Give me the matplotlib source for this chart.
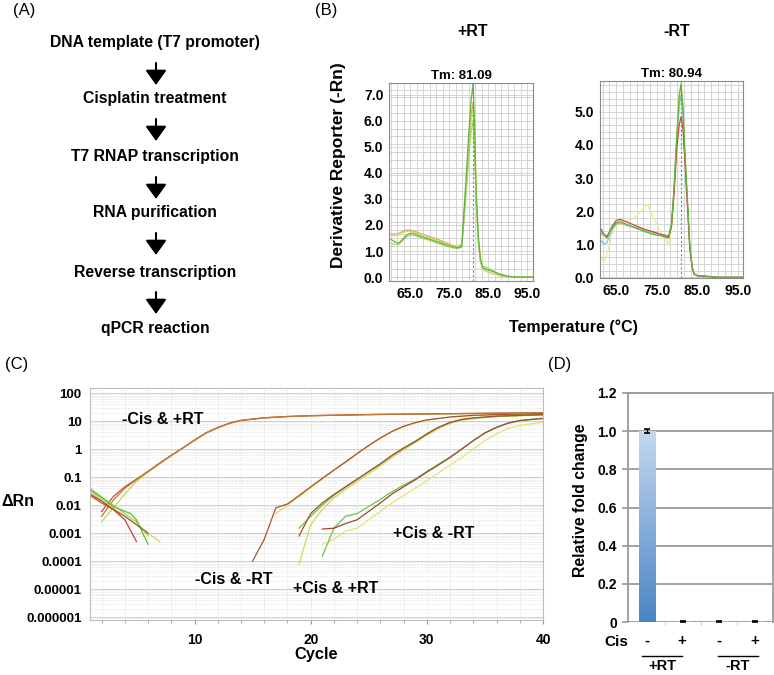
import numpy as np
import matplotlib
matplotlib.use('Agg')
import matplotlib.pyplot as plt
from matplotlib.ticker import MultipleLocator, AutoMinorLocator, LogLocator, NullFormatter
from matplotlib.colors import LinearSegmentedColormap

plt.rcParams['font.family'] = ['Liberation Sans', 'DejaVu Sans']
plt.rcParams['font.weight'] = 'bold'

W, H = 774, 675

# panel A: workflow
steps = ['DNA template (T7 promoter)', 'Cisplatin treatment', 'T7 RNAP transcription',
         'RNA purification', 'Reverse transcription', 'qPCR reaction']

# panel B: melt curves, +RT
temp_plus = [60, 61, 62, 63, 64, 65, 66, 68, 70, 72, 74, 76, 77.2, 78.2, 79.1, 80, 80.6, 81.1, 81.5, 81.9, 82.5, 83, 83.6, 84.5, 85.5, 86.5, 88, 90, 92, 97]
plus_green = [1.45, 1.35, 1.3, 1.45, 1.62, 1.68, 1.66, 1.55, 1.45, 1.35, 1.25, 1.16, 1.12, 1.2, 3.3, 5.5, 6.8, 7.4, 5.8, 3.3, 1.5, 0.7, 0.35, 0.3, 0.25, 0.2, 0.1, 0.03, 0.0, 0.0]
plus_ltgreen = [1.3, 1.25, 1.25, 1.4, 1.55, 1.62, 1.6, 1.5, 1.4, 1.3, 1.2, 1.12, 1.1, 1.15, 2.8, 4.6, 5.6, 6.0, 4.8, 2.8, 1.3, 0.6, 0.4, 0.38, 0.3, 0.22, 0.12, 0.04, 0.0, 0.0]
plus_orange = [1.65, 1.65, 1.68, 1.75, 1.8, 1.8, 1.76, 1.65, 1.55, 1.45, 1.33, 1.22, 1.18, 1.25, 3.0, 5.0, 6.2, 6.7, 5.3, 3.0, 1.3, 0.6, 0.3, 0.22, 0.17, 0.12, 0.05, 0.01, 0.0, 0.0]
plus_yellow = [1.6, 1.58, 1.6, 1.68, 1.75, 1.76, 1.72, 1.62, 1.5, 1.4, 1.3, 1.2, 1.15, 1.22, 2.9, 4.8, 6.0, 6.4, 5.1, 2.9, 1.3, 0.6, 0.3, 0.22, 0.17, 0.12, 0.05, 0.01, 0.0, 0.0]

# panel B: melt curves, -RT
temp_minus = [61, 62, 62.7, 64, 65, 66, 68, 70, 72, 72.8, 74, 76, 77.9, 78.6, 79.2, 79.9, 80.5, 80.94, 81.4, 81.9, 82.4, 83.1, 83.7, 84.2, 85, 86, 88, 90, 96]
minus_red = [1.5, 1.3, 1.2, 1.55, 1.72, 1.75, 1.65, 1.55, 1.45, 1.42, 1.38, 1.3, 1.22, 1.55, 2.5, 3.9, 4.6, 4.85, 4.5, 3.5, 2.4, 0.9, 0.3, 0.1, 0.05, 0.04, 0.02, 0.0, 0.0]
minus_green = [1.35, 1.3, 1.25, 1.5, 1.65, 1.68, 1.58, 1.48, 1.38, 1.35, 1.3, 1.25, 1.18, 1.6, 2.65, 4.3, 5.5, 5.85, 5.2, 3.8, 2.65, 1.0, 0.3, 0.1, 0.05, 0.05, 0.03, 0.0, 0.0]
minus_cyan = [1.15, 1.0, 1.05, 1.45, 1.62, 1.65, 1.56, 1.5, 1.43, 1.4, 1.36, 1.3, 1.26, 1.65, 2.6, 4.1, 5.2, 5.5, 4.9, 3.6, 2.5, 0.9, 0.25, 0.08, 0.04, 0.02, 0.01, 0.0, 0.0]
minus_pale = [0.6, 0.48, 0.7, 1.3, 1.65, 1.72, 1.7, 1.85, 2.15, 2.2, 1.85, 1.35, 1.0, 1.4, 2.4, 3.9, 5.1, 5.5, 5.0, 3.6, 2.5, 0.9, 0.25, 0.08, 0.05, 0.03, 0.02, 0.0, 0.0]
minus_yellow = [1.3, 1.25, 1.2, 1.45, 1.6, 1.62, 1.55, 1.48, 1.4, 1.37, 1.33, 1.27, 1.2, 1.55, 2.55, 4.2, 5.4, 5.75, 5.1, 3.7, 2.55, 0.95, 0.28, 0.09, 0.05, 0.03, 0.02, 0.0, 0.0]
tm_plus, tm_minus = 81.09, 80.94

# panel C: amplification curves
cyc_a = [2, 3, 4, 5, 6, 7, 8, 9, 10, 11, 12, 13, 14, 16, 18, 20, 25, 30, 35, 40]
cisneg_rtpos_1 = [0.004, 0.015, 0.04, 0.08, 0.16, 0.32, 0.6, 1.1, 2.1, 3.8, 5.8, 8.3, 10.5, 13, 14.5, 15.5, 17, 18, 18.8, 19.5]
cisneg_rtpos_2 = [0.0025, 0.008, 0.025, 0.07, 0.15, 0.3, 0.58, 1.1, 2.0, 3.7, 5.7, 8.2, 10.4, 12.9, 14.4, 15.4, 16.9, 17.9, 18.7, 19.3]
cisneg_rtpos_3 = [0.006, 0.02, 0.045, 0.085, 0.16, 0.31, 0.6, 1.1, 2.1, 3.8, 5.9, 8.4, 10.6, 13.1, 14.6, 15.6, 17.1, 18.1, 18.9, 19.6]

cyc_b = [15, 16, 17, 18, 19, 20, 21, 22, 23, 24, 25, 26, 27, 28, 29, 30, 32, 34, 36, 38, 40]
cisneg_rtneg_1 = [0.0001, 0.0006, 0.008, 0.011, 0.022, 0.045, 0.09, 0.18, 0.35, 0.7, 1.35, 2.5, 4.3, 6.5, 8.8, 11, 14, 16, 17, 17.8, 18.3]
cyc_b2 = [17, 18, 19, 20, 21, 22, 23, 24, 25, 26, 27, 28, 29, 30, 32, 34, 36, 38, 40]
cisneg_rtneg_2 = [0.005, 0.01, 0.02, 0.042, 0.085, 0.17, 0.33, 0.66, 1.3, 2.4, 4.1, 6.3, 8.6, 10.8, 13.8, 15.8, 16.8, 17.6, 18.1]

cyc_c = [19, 20, 21, 22, 23, 24, 25, 26, 27, 28, 29, 30, 31, 32, 33, 34, 36, 38, 40]
cispos_rtpos_1 = [0.0008, 0.005, 0.012, 0.024, 0.045, 0.085, 0.16, 0.3, 0.6, 1.1, 1.9, 3.5, 6, 9, 11.5, 13, 15, 16, 17]
cispos_rtpos_2 = [0.0015, 0.004, 0.01, 0.022, 0.043, 0.082, 0.155, 0.29, 0.58, 1.05, 1.85, 3.4, 5.9, 8.8, 11.3, 12.8, 14.8, 15.8, 16.8]
cispos_rtpos_3 = [0.00008, 0.002, 0.007, 0.018, 0.036, 0.07, 0.13, 0.25, 0.5, 0.95, 1.7, 3.1, 5.4, 8.2, 10.6, 12.2, 14.3, 15.4, 16.4]

cyc_d = [21, 22, 23, 24, 25, 26, 27, 28, 29, 30, 31, 32, 33, 34, 35, 36, 37, 38, 39, 40]
cispos_rtneg_1 = [0.0014, 0.0015, 0.0022, 0.003, 0.006, 0.012, 0.025, 0.045, 0.08, 0.15, 0.27, 0.5, 1.0, 2.0, 3.8, 6, 8.5, 10.5, 11.5, 12.5]
cispos_rtneg_2 = [0.00015, 0.0015, 0.004, 0.005, 0.009, 0.016, 0.03, 0.052, 0.085, 0.16, 0.29, 0.52, 1.0, 2.0, 3.7, 5.9, 8.3, 10.2, 11.3, 12.2]
cispos_rtneg_3 = [0.0004, 0.0006, 0.0012, 0.0015, 0.003, 0.006, 0.012, 0.022, 0.04, 0.075, 0.14, 0.27, 0.5, 1.0, 2.0, 3.5, 5.5, 7, 8, 9]

# panel C: baseline noise at early cycles
noise_cyc_1 = [1, 2, 3, 4, 5]
noise_red = [0.025, 0.014, 0.007, 0.003, 0.0005]
noise_cyc_2 = [1, 2, 3, 4, 4.5, 5, 6]
noise_green = [0.035, 0.018, 0.009, 0.006, 0.005, 0.003, 0.0004]
noise_cyc_3 = [1, 2, 3, 4, 5, 6, 7]
noise_yellow = [0.03, 0.015, 0.008, 0.004, 0.002, 0.001, 0.0005]
noise_brown = [0.022, 0.012, 0.007, 0.004, 0.002, 0.001, None]
noise_ltgreen = [0.04, 0.02, 0.01, 0.005, 0.0025, 0.0008, None]

# panel D: relative fold change
bar_pos = [0, 1, 2, 3]
fold_change = [1.0, 0.003, 0.003, 0.003]
fold_err = [0.012, 0.002, 0.002, 0.002]
cis_signs = ['-', '+', '-', '+']
rt_groups = ['+RT', '-RT']


def px_axes(l, t, r, b):
    return fig.add_axes([l / W, 1 - b / H, (r - l) / W, (b - t) / H])


fig = plt.figure(figsize=(7.74, 6.75), dpi=100)

# ---------- panel B ----------
def melt_axes(ax, xlim, ylim, yticks, ystep):
    ax.set_xlim(*xlim)
    ax.set_ylim(*ylim)
    ax.set_xticks([65, 75, 85, 95])
    ax.set_xticklabels(['65.0', '75.0', '85.0', '95.0'])
    ax.set_yticks(yticks)
    ax.set_yticklabels(['%.1f' % v for v in yticks])
    ax.xaxis.set_minor_locator(AutoMinorLocator(6))
    ax.yaxis.set_minor_locator(MultipleLocator(ystep))
    ax.grid(which='both', color='#cfcfcf', lw=0.6)
    ax.tick_params(which='both', length=0, labelsize=10, pad=4)
    for s in ax.spines.values():
        s.set_color('#8a8a8a')
        s.set_linewidth(0.8)

axb1 = px_axes(389, 83, 533, 281)
for y, c in [(plus_orange, '#e3a35a'), (plus_yellow, '#d9d76a'), (plus_ltgreen, '#9fd36a'), (plus_green, '#62b43a')]:
    axb1.plot(temp_plus, y, color=c, lw=0.9)
axb1.axvline(tm_plus, color='#7186a8', ls=(0, (2, 2)), lw=0.8)
melt_axes(axb1, (59.5, 96.5), (-0.15, 7.45), [0, 1, 2, 3, 4, 5, 6, 7], 0.3)
axb1.set_title('Tm: %.2f' % tm_plus, fontsize=9.5, fontweight='bold', pad=3)

axb2 = px_axes(600, 81, 743, 278)
for y, c in [(minus_pale, '#efe69a'), (minus_yellow, '#cfd45c'), (minus_cyan, '#7cc6c4'),
             (minus_red, '#c84a3e'), (minus_green, '#62b43a')]:
    axb2.plot(temp_minus, y, color=c, lw=0.9)
axb2.axvline(tm_minus, color='#7186a8', ls=(0, (2, 2)), lw=0.8)
melt_axes(axb2, (61, 96.2), (-0.02, 5.93), [0, 1, 2, 3, 4, 5], 0.2)
axb2.set_title('Tm: %.2f' % tm_minus, fontsize=9.5, fontweight='bold', pad=3)

# ---------- panel C ----------
axc = px_axes(90, 388, 543, 620)
axc.set_yscale('log')
for cy, v, c in [(cyc_a, cisneg_rtpos_2, '#b7d96a'), (cyc_a, cisneg_rtpos_3, '#cc4a3a'), (cyc_a, cisneg_rtpos_1, '#c07a2e'),
                 (cyc_b2, cisneg_rtneg_2, '#e0d86a'), (cyc_b, cisneg_rtneg_1, '#a5552e'),
                 (cyc_c, cispos_rtpos_3, '#d8d45a'), (cyc_c, cispos_rtpos_2, '#6cc24a'), (cyc_c, cispos_rtpos_1, '#a0502c'),
                 (cyc_d, cispos_rtneg_3, '#e4e27a'), (cyc_d, cispos_rtneg_2, '#6cc24a'), (cyc_d, cispos_rtneg_1, '#9a4a2c')]:
    axc.plot(cy, v, color=c, lw=0.9)
for cy, v, c in [(noise_cyc_3, noise_yellow, '#d8d45a'), (noise_cyc_3, noise_ltgreen, '#9ad45a'),
                 (noise_cyc_2, noise_green, '#5cbc3c'), (noise_cyc_3, noise_brown, '#a0602c'),
                 (noise_cyc_1, noise_red, '#c0403a')]:
    axc.plot(cy, np.array(v, dtype=float), color=c, lw=0.9)
axc.set_xlim(1, 40)
axc.set_ylim(10 ** -6.1, 10 ** 2.18)
dec = [1e2, 1e1, 1, 0.1, 0.01, 0.001, 0.0001, 0.00001, 0.000001]
axc.set_yticks(dec)
axc.set_yticklabels(['100', '10', '1', '0.1', '0.01', '0.001', '0.0001', '0.00001', '0.000001'])
axc.yaxis.set_minor_locator(LogLocator(base=10, subs=np.arange(2, 10), numticks=20))
axc.yaxis.set_minor_formatter(NullFormatter())
axc.set_xticks([10, 20, 30, 40])
axc.xaxis.set_minor_locator(MultipleLocator(2))
axc.grid(which='major', axis='y', color='#cfcfcf', lw=0.7)
axc.grid(which='minor', axis='y', color='#dcdcdc', lw=0.5, ls=(0, (1, 1)))
axc.grid(which='both', axis='x', color='#d8d8d8', lw=0.6, ls=(0, (1, 1.5)))
axc.tick_params(axis='y', which='both', length=0, labelsize=9.5, pad=6)
axc.tick_params(axis='x', which='major', length=3, color='#999999', labelsize=10, pad=6)
axc.tick_params(axis='x', which='minor', length=2, color='#999999')
for s in axc.spines.values():
    s.set_color('#bdbdbd')
    s.set_linewidth(0.8)
axc.text(3.75, 10 ** 1.04, '-Cis & +RT', fontsize=11.5, va='center')
axc.text(10.0, 10 ** -4.67, '-Cis & -RT', fontsize=11.5, va='center')
axc.text(18.5, 10 ** -4.96, '+Cis & +RT', fontsize=11.5, va='center')
axc.text(27.1, 10 ** -3.0, '+Cis & -RT', fontsize=11.5, va='center')

# ---------- panel D ----------
axd = px_axes(628, 393, 773, 622)
bars = axd.bar(bar_pos, fold_change, width=0.45, color='none', edgecolor='none', zorder=2)
cmap = LinearSegmentedColormap.from_list('bar', ['#4a85c4', '#c4d8ef'])
grad = np.linspace(0, 1, 256).reshape(-1, 1)
for b in bars:
    x0, w, h = b.get_x(), b.get_width(), b.get_height()
    im = axd.imshow(grad, extent=[x0, x0 + w, 0, h], origin='lower', cmap=cmap, aspect='auto', zorder=2)
    im.set_clip_path(b)
axd.errorbar(bar_pos, fold_change, yerr=fold_err, fmt='none', ecolor='black', elinewidth=1, capsize=2.5, capthick=1.2, zorder=3)
axd.set_xlim(-0.53, 3.5)
axd.set_ylim(0, 1.2)
axd.set_yticks([0, 0.2, 0.4, 0.6, 0.8, 1.0, 1.2])
axd.set_yticklabels(['0', '0.2', '0.4', '0.6', '0.8', '1.0', '1.2'])
axd.yaxis.grid(True, color='#9a9a9a', lw=1.3, zorder=0)
axd.set_axisbelow(True)
axd.set_xticks([0.5, 1.5, 2.5])
axd.set_xticklabels([])
axd.tick_params(axis='x', length=2, color='#c8c8c8')
axd.tick_params(axis='y', length=4, color='#9a9a9a', width=1.2, labelsize=10, pad=4)
for k in ['left', 'right', 'top']:
    axd.spines[k].set_color('#9a9a9a')
    axd.spines[k].set_linewidth(1.3)
axd.spines['bottom'].set_visible(False)

# ---------- overlay: panel A and free text ----------
ov = fig.add_axes([0, 0, 1, 1])
ov.set_xlim(0, W)
ov.set_ylim(H, 0)
ov.axis('off')
ov.patch.set_alpha(0)

step_y = [43, 99, 157, 213, 272, 328]
for i, s in enumerate(steps):
    ov.text(155, step_y[i], s, ha='center', va='center', fontsize=11.3)
    if i < len(steps) - 1:
        ov.annotate('', xy=(156, step_y[i] + 42), xytext=(156, step_y[i] + 20),
                    arrowprops=dict(arrowstyle='-|>,head_length=0.45,head_width=0.32', lw=1.5,
                                    color='black', mutation_scale=20, shrinkA=0, shrinkB=0))

ov.text(13, 11, '(A)', fontsize=12, fontweight='normal', va='center')
ov.text(315, 11, '(B)', fontsize=12, fontweight='normal', va='center')
ov.text(5, 364, '(C)', fontsize=12, fontweight='normal', va='center')
ov.text(548, 364, '(D)', fontsize=12, fontweight='normal', va='center')

ov.text(473, 32, '+RT', ha='center', va='center', fontsize=11.5)
ov.text(677, 32, '-RT', ha='center', va='center', fontsize=11.5)
ov.text(338, 165, 'Derivative Reporter (-Rn)', rotation=90, ha='center', va='center', fontsize=12.5)
ov.text(573, 327, 'Temperature (°C)', ha='center', va='center', fontsize=11.5)

ov.text(1, 502, 'ΔRn', ha='left', va='center', fontsize=11.5)
ov.text(316, 655, 'Cycle', ha='center', va='center', fontsize=11.8)

ov.text(580, 500, 'Relative fold change', rotation=90, ha='center', va='center', fontsize=11.3)
ov.text(616, 642, 'Cis', ha='center', va='center', fontsize=11)
sign_x = [647, 682, 719, 755]
for x, s in zip(sign_x, cis_signs):
    ov.text(x, 641, s, ha='center', va='center', fontsize=11)
ov.plot([642, 682], [656, 656], color='black', lw=1)
ov.plot([718, 758], [656, 656], color='black', lw=1)
ov.text(662, 666, rt_groups[0], ha='center', va='center', fontsize=10.5)
ov.text(738, 666, rt_groups[1], ha='center', va='center', fontsize=10.5)

fig.savefig('out.png', dpi=100)
